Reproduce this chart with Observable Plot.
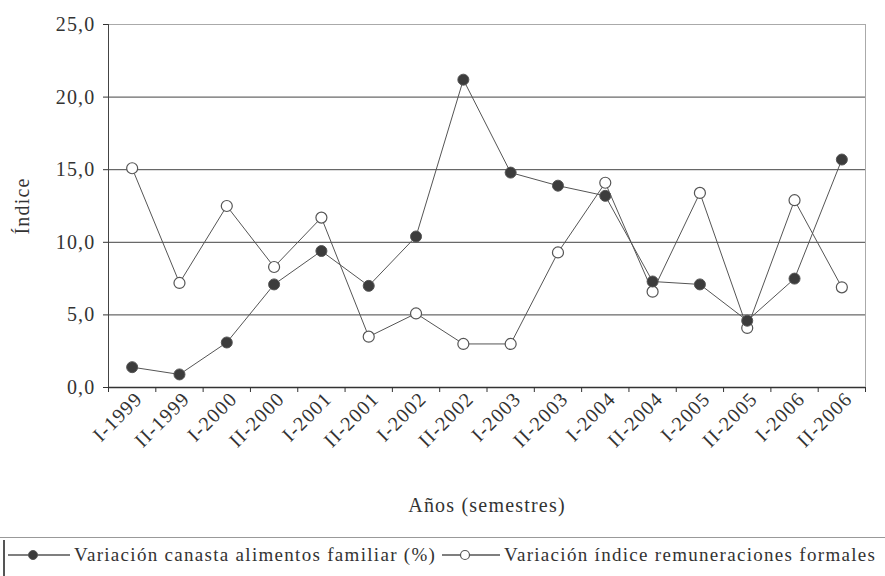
<!DOCTYPE html>
<html>
<head>
<meta charset="utf-8">
<script src="https://cdn.jsdelivr.net/npm/d3@7"></script>
<script src="https://cdn.jsdelivr.net/npm/@observablehq/plot@0.6"></script>
<style>
  html, body { margin: 0; padding: 0; background: #fff; }
  #chart svg { display: block; }
  .legend {
    position: relative;
    height: 40px;
    border-top: 1px solid #999;
    margin-top: 3px;
    font-family: "Liberation Serif", "Times New Roman", serif;
    font-size: 19px;
    letter-spacing: 1.3px;
    color: #333;
  }
  .legend .bar { position: absolute; left: 3px; top: 2px; bottom: 0; border-left: 2px solid #555; }
  .legend .item { position: absolute; top: 6px; display: flex; align-items: center; white-space: nowrap; }
  .legend svg { display: block; margin-right: 4px; }
</style>
</head>
<body>
<div id="chart"></div>
<div class="legend" id="legend"></div>
<script>
const semestres = ["I-1999","II-1999","I-2000","II-2000","I-2001","II-2001","I-2002","II-2002",
                   "I-2003","II-2003","I-2004","II-2004","I-2005","II-2005","I-2006","II-2006"];
const canasta = [1.4, 0.9, 3.1, 7.1, 9.4, 7.0, 10.4, 21.2, 14.8, 13.9, 13.2, 7.3, 7.1, 4.6, 7.5, 15.7];
const remuneraciones = [15.1, 7.2, 12.5, 8.3, 11.7, 3.5, 5.1, 3.0, 3.0, 9.3, 14.1, 6.6, 13.4, 4.1, 12.9, 6.9];
const yTicks = [0, 5, 10, 15, 20, 25];
const seriesNames = ["Variación canasta alimentos familiar (%)", "Variación índice remuneraciones formales"];
const xTitle = "Años (semestres)";
const yTitle = "Índice";

const idx = semestres.map((_, i) => i);
const xDomain = [-0.5, semestres.length - 0.5];
const boundaries = d3.range(semestres.length + 1).map(i => i - 0.5);
const dataA = idx.map(i => ({i, v: canasta[i]}));
const dataB = idx.map(i => ({i, v: remuneraciones[i]}));
const fmt = d => d.toFixed(1).replace(".", ",");

const font = "'Liberation Serif', 'Times New Roman', serif";
const chart = Plot.plot({
  width: 885,
  height: 534,
  marginLeft: 108,
  marginRight: 20,
  marginTop: 24,
  marginBottom: 147,
  style: {fontFamily: font, fontSize: "20px", color: "#333", background: "#fff", letterSpacing: "1.2px"},
  x: {type: "linear", domain: xDomain, axis: null},
  y: {domain: [0, 25], axis: null},
  marks: [
    Plot.gridY(yTicks, {stroke: "#444", strokeOpacity: 1, strokeWidth: 1}),
    Plot.frame({stroke: "#aaa"}),
    Plot.ruleX([xDomain[0]], {stroke: "#444"}),
    Plot.ruleY([0], {stroke: "#333", strokeWidth: 1.5}),
    Plot.axisY(yTicks, {tickSize: 5, tickPadding: 8, tickFormat: fmt, label: yTitle, labelAnchor: "center", labelOffset: 94, labelArrow: "none", fontSize: 20}),
    Plot.axisX(boundaries, {tickSize: 5, tickFormat: () => "", label: null}),
    Plot.axisX(idx, {tickSize: 0, tickPadding: 8, tickRotate: -45, dx: 7, tickFormat: i => semestres[i], label: xTitle, labelAnchor: "center", labelOffset: 124, labelArrow: "none", fontSize: 20}),
    Plot.line(dataB, {x: "i", y: "v", stroke: "#555", strokeWidth: 1}),
    Plot.line(dataA, {x: "i", y: "v", stroke: "#555", strokeWidth: 1}),
    Plot.dot(dataB, {x: "i", y: "v", r: 5.5, fill: "#fff", stroke: "#555", strokeWidth: 1.2}),
    Plot.dot(dataA, {x: "i", y: "v", r: 5.5, fill: "#3c3c3c", stroke: "#555", strokeWidth: 1})
  ]
});
document.getElementById("chart").appendChild(chart);

const legend = document.getElementById("legend");
legend.innerHTML = `<div class="bar"></div>
<div class="item" style="left:8px">
  <svg width="62" height="14"><line x1="0" y1="7" x2="62" y2="7" stroke="#555" stroke-width="1.5"/><circle cx="25" cy="7" r="4.5" fill="#3c3c3c" stroke="#555"/></svg>
  <span>${seriesNames[0]}</span></div>
<div class="item" style="left:442px">
  <svg width="58" height="14"><line x1="0" y1="7" x2="58" y2="7" stroke="#555" stroke-width="1.5"/><circle cx="23" cy="7" r="4.5" fill="#fff" stroke="#555" stroke-width="1.2"/></svg>
  <span>${seriesNames[1]}</span></div>`;
</script>
</body>
</html>
